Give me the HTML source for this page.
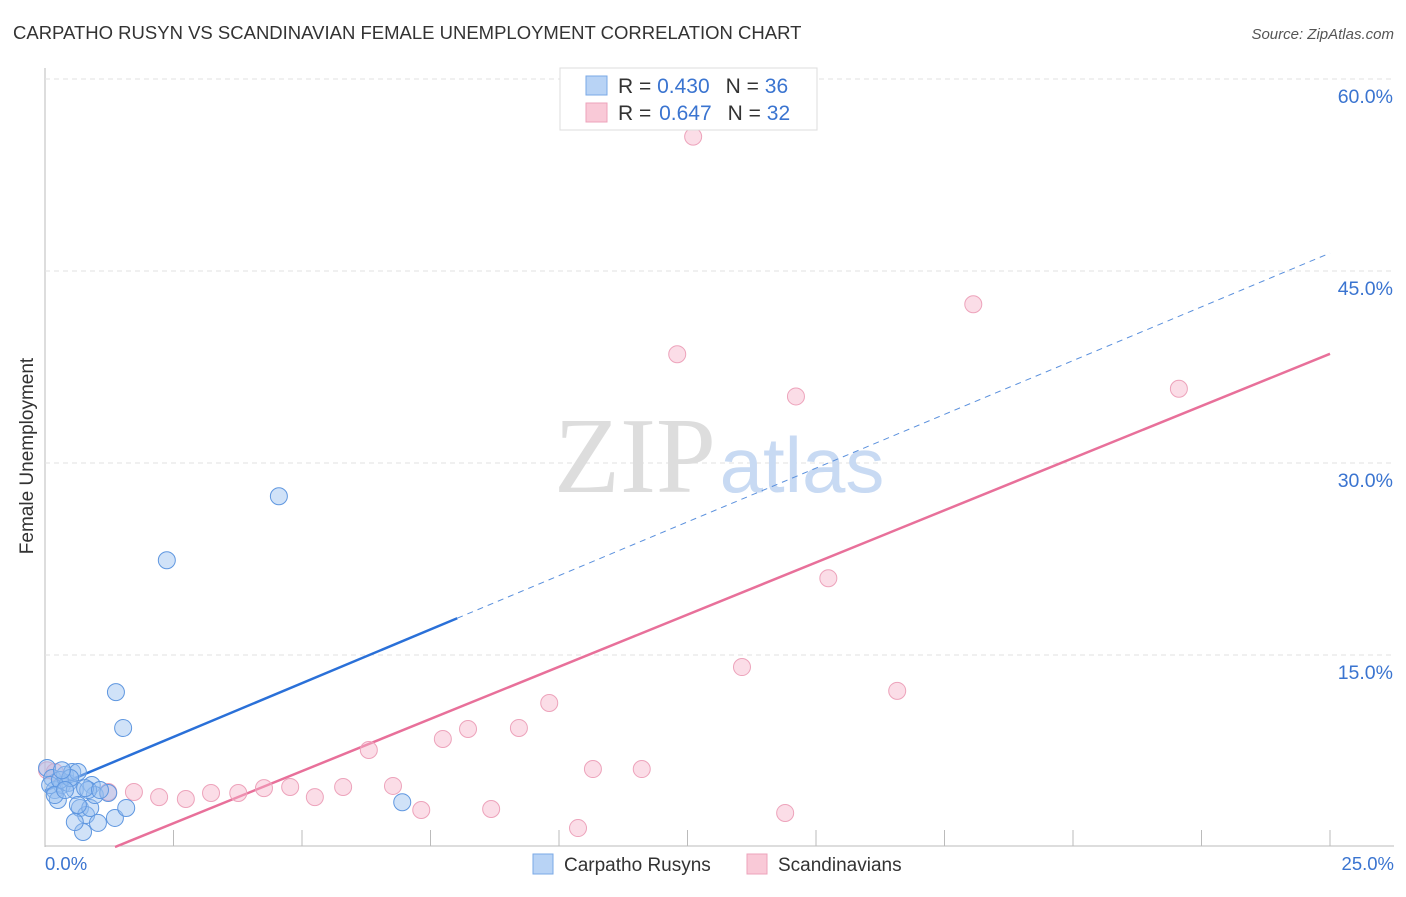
<!DOCTYPE html>
<html><head><meta charset="utf-8"><style>
body{margin:0;background:#fff;font-family:"Liberation Sans",sans-serif}
</style></head><body>
<svg width="1406" height="892" xmlns="http://www.w3.org/2000/svg" style="font-family:'Liberation Sans',sans-serif">
<text x="13" y="39" font-size="18.5" fill="#333">CARPATHO RUSYN VS SCANDINAVIAN FEMALE UNEMPLOYMENT CORRELATION CHART</text>
<text x="1394" y="39" font-size="15" fill="#555" text-anchor="end" font-style="italic">Source: ZipAtlas.com</text>
<text transform="translate(33,456) rotate(-90)" font-size="19" fill="#333" text-anchor="middle">Female Unemployment</text>
<g id="grid"></g>
<g id="wm"><text x="635" y="492" font-size="108" font-family="Liberation Serif,serif" fill="#ddd" text-anchor="middle">ZIP</text><text x="802" y="492" font-size="78" fill="#c8daf3" text-anchor="middle">atlas</text></g>
<g id="lines"></g>
<g id="pts"></g>
<g>
<rect x="560" y="68" width="257" height="62" fill="#fff" stroke="#ddd"/>
<rect x="586" y="76" width="21" height="19" fill="#b8d3f5" stroke="#7aa8e6"/>
<rect x="586" y="103" width="21" height="19" fill="#f9c9d7" stroke="#eda3bb"/>
<text x="618" y="93" font-size="21" fill="#333">R = <tspan fill="#3a74d0">0.430</tspan><tspan dx="16">N = </tspan><tspan fill="#3a74d0">36</tspan></text>
<text x="618" y="120" font-size="21" fill="#333">R = <tspan fill="#3a74d0" dx="2">0.647</tspan><tspan dx="16">N = </tspan><tspan fill="#3a74d0">32</tspan></text>
</g>
<g>
<rect x="533" y="854" width="20" height="20" fill="#b8d3f5" stroke="#7aa8e6"/>
<text x="564" y="871" font-size="19" fill="#333">Carpatho Rusyns</text>
<rect x="747" y="854" width="20" height="20" fill="#f9c9d7" stroke="#eda3bb"/>
<text x="778" y="871" font-size="19" fill="#333">Scandinavians</text>
</g>
<text x="45" y="870" font-size="18.5" fill="#3a74d0">0.0%</text>
<text x="1394" y="870" font-size="18.5" fill="#3a74d0" text-anchor="end">25.0%</text>
</svg>
<script>
const yTicks=[15,30,45,60];
const yTickLabels=["15.0%","30.0%","45.0%","60.0%"];
const xTicks=[0,2.5,5,7.5,10,12.5,15,17.5,20,22.5,25];
const blueX=[0.04,0.14,0.19,0.25,0.33,0.39,0.45,0.53,0.58,0.64,0.68,0.74,0.80,0.88,0.91,0.97,1.03,1.23,1.36,1.58,1.38,1.52,2.37,4.55,6.95,0.10,0.29,0.49,0.84,0.58,0.19,0.39,0.78,1.07,0.64,0.33];
const blueY=[6.17,5.39,4.45,3.67,4.84,5.63,5.0,5.86,4.45,5.86,3.05,1.17,2.5,3.05,4.84,4.06,1.88,4.22,2.27,3.05,12.1,9.3,22.4,27.4,3.5,4.84,5.23,5.39,4.45,1.95,4.06,4.45,4.6,4.45,3.28,6.0];
const pinkX=[0.04,0.19,1.23,1.73,2.22,2.74,3.23,3.76,4.26,4.77,5.25,5.80,6.30,6.77,7.32,7.74,8.23,8.68,9.22,9.81,10.37,10.66,11.61,12.30,12.61,13.56,14.40,14.61,15.24,16.58,18.06,22.06];
const pinkY=[6.0,5.86,4.3,4.3,3.9,3.75,4.22,4.22,4.6,4.69,3.9,4.69,7.58,4.77,2.89,8.44,9.22,2.97,9.3,11.25,1.48,6.09,6.09,38.5,55.5,14.06,2.66,35.2,21.0,12.2,42.4,35.8];
const blueFit=[4.4,1.68], pinkFit=[-2.22,1.63];
const NS="http://www.w3.org/2000/svg";
const X=v=>45+v/25*1285, Y=v=>847-v*12.8;
function mk(p,t,a){const e=document.createElementNS(NS,t);for(const k in a)e.setAttribute(k,a[k]);p.appendChild(e);return e;}
const g=document.getElementById('grid');
mk(g,'line',{x1:45,y1:68,x2:45,y2:847,stroke:'#bbb'});
mk(g,'line',{x1:45,y1:846,x2:1394,y2:846,stroke:'#bbb'});
yTicks.forEach((v,i)=>{
 const l=mk(g,'line',{x1:45,y1:Y(v),x2:1394,y2:Y(v),stroke:'#e2e2e2','stroke-dasharray':'5,4'});
 
 
 const t=mk(g,'text',{x:1393,y:Y(v)+24,'font-size':19.5,fill:'#3a74d0','text-anchor':'end'});
 t.textContent=yTickLabels[i];
 
 
});
xTicks.forEach(v=>{if(v>0){const l=mk(g,'line',{x1:X(v),y1:830,x2:X(v),y2:846,stroke:'#bbb'});
 
 }});
const L=document.getElementById('lines');
let b=mk(L,'line',{x1:X(0),y1:Y(blueFit[0]),x2:X(8.02),y2:Y(blueFit[0]+8.02*blueFit[1]),stroke:'#2a70d8','stroke-width':2.5});


let bd=mk(L,'line',{x1:X(8.02),y1:Y(blueFit[0]+8.02*blueFit[1]),x2:X(25),y2:Y(blueFit[0]+25*blueFit[1]),stroke:'#5a90dd','stroke-width':1,'stroke-dasharray':'6,5'});


const x0=-pinkFit[0]/pinkFit[1];
let p=mk(L,'line',{x1:X(x0),y1:Y(0),x2:X(25),y2:Y(pinkFit[0]+25*pinkFit[1]),stroke:'#e8709a','stroke-width':2.5});


const P=document.getElementById('pts');
pinkX.forEach((v,i)=>{const c=mk(P,'circle',{cx:X(v),cy:Y(pinkY[i]),r:8.5,fill:'rgba(247,180,201,0.45)',stroke:'#eda3bb','stroke-width':1});
 
 });
blueX.forEach((v,i)=>{const c=mk(P,'circle',{cx:X(v),cy:Y(blueY[i]),r:8.5,fill:'rgba(150,190,240,0.45)',stroke:'#5f97e0','stroke-width':1});
 
 });
</script>
</body></html>
